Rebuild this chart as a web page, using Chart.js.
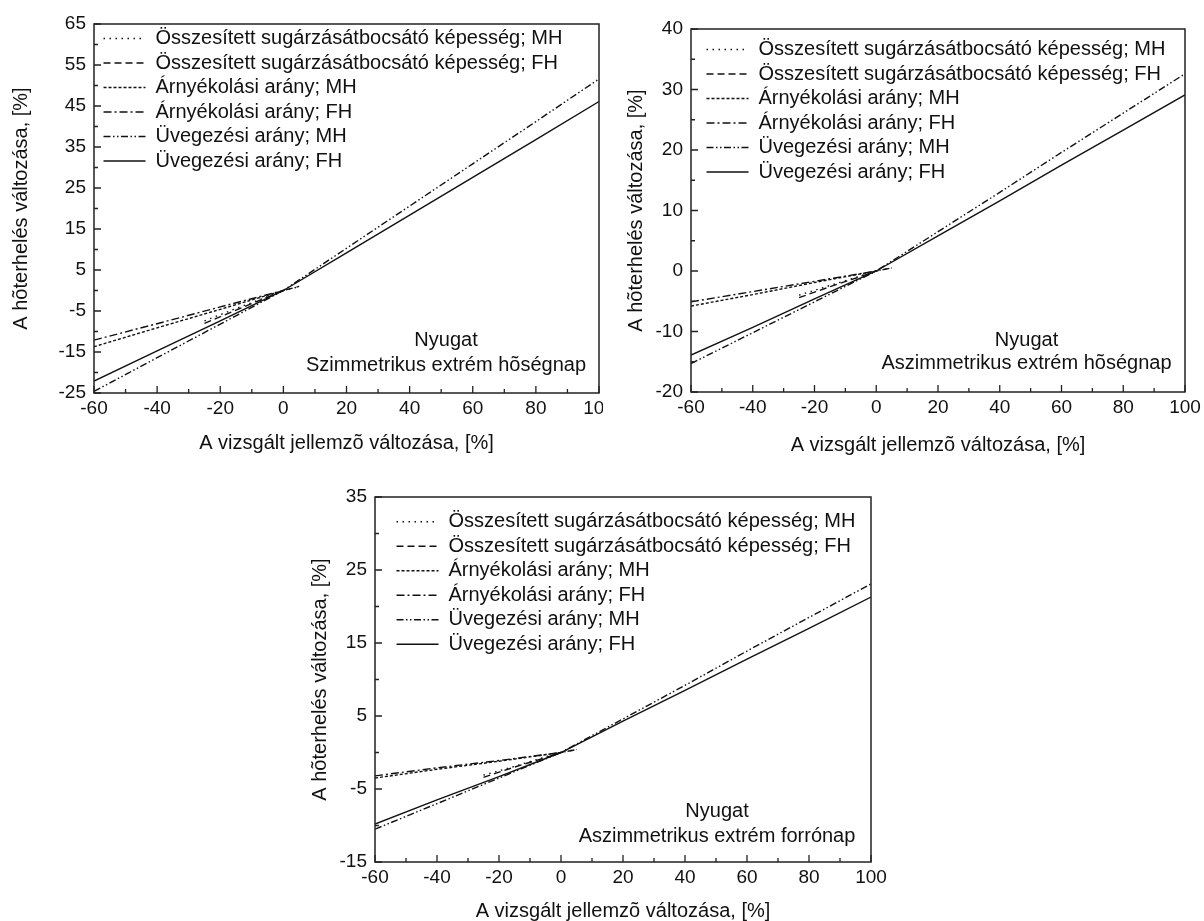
<!DOCTYPE html>
<html>
<head>
<meta charset="utf-8">
<script src="https://cdn.jsdelivr.net/npm/chart.js@4/dist/chart.umd.min.js"></script>
<style>
  html, body { margin: 0; padding: 0; background: #fff; }
  body { width: 1204px; height: 921px; position: relative; overflow: hidden; }
  canvas { position: absolute; }
</style>
</head>
<body>
<canvas id="c1" width="603" height="460" style="left:0px;top:0px;"></canvas>
<canvas id="c2" width="601" height="460" style="left:603px;top:0px;"></canvas>
<canvas id="c3" width="620" height="461" style="left:290px;top:460px;"></canvas>
<script>
// ---------- data ----------
const seriesNames = [
  'Összesített sugárzásátbocsátó képesség; MH',
  'Összesített sugárzásátbocsátó képesség; FH',
  'Árnyékolási arány; MH',
  'Árnyékolási arány; FH',
  'Üvegezési arány; MH',
  'Üvegezési arány; FH'
];
const xTotal   = [-25, -15, -5, 0, 5];
const xShading = [-60, -40, -20, 0];
const xGlazing = [-60, -40, -20, 0, 20, 40, 60, 80, 100];

const xTickValues = [-60, -40, -20, 0, 20, 40, 60, 80, 100];
const yTicks1 = [-25, -15, -5, 5, 15, 25, 35, 45, 55, 65];
const yTicks2 = [-20, -10, 0, 10, 20, 30, 40];
const yTicks3 = [-15, -5, 5, 15, 25, 35];

const xTitle = 'A vizsgált jellemzõ változása, [%]';
const yTitle = 'A hõterhelés változása, [%]';

// Chart 1: Szimmetrikus extrém hõségnap
const c1TotMH  = [-7.4, -4.4, -1.5, 0, 0.9];
const c1TotFH  = [-8.0, -4.8, -1.6, 0, 1.0];
const c1ShadMH = [-13.7, -9.1, -4.6, 0];
const c1ShadFH = [-12.1, -8.1, -4.0, 0];
const c1GlazMH = [-24.6, -16.4, -8.2, 0, 10.3, 20.6, 30.9, 41.2, 51.6];
const c1GlazFH = [-22.1, -14.7, -7.4, 0, 9.2, 18.4, 27.6, 36.8, 46.1];
const c1Note = ['Nyugat', 'Szimmetrikus extrém hõségnap'];

// Chart 2: Aszimmetrikus extrém hõségnap
const c2TotMH  = [-4.0, -2.4, -0.8, 0, 0.5];
const c2TotFH  = [-4.4, -2.6, -0.9, 0, 0.5];
const c2ShadMH = [-5.8, -3.9, -1.9, 0];
const c2ShadFH = [-5.1, -3.4, -1.7, 0];
const c2GlazMH = [-15.3, -10.2, -5.1, 0, 6.5, 13.0, 19.6, 26.1, 32.6];
const c2GlazFH = [-13.9, -9.3, -4.6, 0, 5.8, 11.6, 17.5, 23.3, 29.1];
const c2Note = ['Nyugat', 'Aszimmetrikus extrém hõségnap'];

// Chart 3: Aszimmetrikus extrém forrónap
const c3TotMH  = [-3.1, -1.9, -0.6, 0, 0.4];
const c3TotFH  = [-3.4, -2.0, -0.7, 0, 0.4];
const c3ShadMH = [-3.5, -2.3, -1.2, 0];
const c3ShadFH = [-3.2, -2.1, -1.1, 0];
const c3GlazMH = [-10.5, -7.0, -3.5, 0, 4.6, 9.2, 13.9, 18.5, 23.1];
const c3GlazFH = [-9.8, -6.5, -3.3, 0, 4.3, 8.5, 12.8, 17.0, 21.3];
const c3Note = ['Nyugat', 'Aszimmetrikus extrém forrónap'];

// ---------- styling ----------
const FONT = "'Liberation Sans', Arial, Helvetica, sans-serif";
const INK = '#111';
Chart.defaults.font.family = FONT;
Chart.defaults.color = INK;

const dashes = [
  [1.5, 4.5],                  // dotted
  [7, 4],                      // dashed
  [3, 2],                      // short dots
  [8, 3, 2, 3],                // dash-dot
  [7, 2.5, 1.5, 2.5, 1.5, 2.5],// dash-dot-dot
  []                           // solid
];

function pts(xs, ys) { return xs.map((x, i) => ({ x: x, y: ys[i] })); }

const framePlugin = {
  id: 'frame',
  afterDraw(chart) {
    const { ctx, chartArea: a, scales } = chart;
    const xs = scales.x, ys = scales.y;
    ctx.save();
    ctx.strokeStyle = '#222';
    ctx.lineWidth = 1.5;
    ctx.setLineDash([]);
    ctx.strokeRect(a.left, a.top, a.right - a.left, a.bottom - a.top);
    ctx.lineWidth = 1.3;
    const majorLen = 7, minorLen = 4;
    const xt = xs.ticks.map(t => t.value);
    const yt = ys.ticks.map(t => t.value);
    ctx.beginPath();
    xt.forEach((v, i) => {
      const px = xs.getPixelForValue(v);
      ctx.moveTo(px, a.bottom); ctx.lineTo(px, a.bottom - majorLen);
      if (i < xt.length - 1) {
        const pm = xs.getPixelForValue((v + xt[i + 1]) / 2);
        ctx.moveTo(pm, a.bottom); ctx.lineTo(pm, a.bottom - minorLen);
      }
    });
    yt.forEach((v, i) => {
      const py = ys.getPixelForValue(v);
      ctx.moveTo(a.left, py); ctx.lineTo(a.left + majorLen, py);
      if (i < yt.length - 1) {
        const pm = ys.getPixelForValue((v + yt[i + 1]) / 2);
        ctx.moveTo(a.left, pm); ctx.lineTo(a.left + minorLen, pm);
      }
    });
    ctx.stroke();
    ctx.restore();
  }
};

const notePlugin = {
  id: 'note',
  afterDraw(chart, args, opts) {
    const { ctx, chartArea: a } = chart;
    ctx.save();
    ctx.font = '20px ' + FONT;
    ctx.fillStyle = INK;
    ctx.textAlign = 'center';
    ctx.textBaseline = 'middle';
    opts.lines.forEach((t, i) => ctx.fillText(t, a.right - opts.dx, a.bottom - opts.dy[i]));
    ctx.restore();
  }
};

const legendPlace = {
  id: 'legendPlace',
  afterLayout(chart, args, opts) {
    const lg = chart.legend;
    if (!lg) return;
    const a = chart.chartArea;
    const pad = 4.5;
    lg.left = a.left + opts.dx - pad;
    lg.top = a.top + opts.dy - pad - 10;
    lg.right = a.right;
    lg.bottom = a.bottom;
  }
};

function makeChart(id, L, series, yTicks, yMin, yMax, note) {
  const xsets = [xTotal, xTotal, xShading, xShading, xGlazing, xGlazing];
  const datasets = series.map((ys, i) => ({
    label: seriesNames[i],
    data: pts(xsets[i], ys),
    borderColor: INK,
    backgroundColor: 'transparent',
    borderWidth: 1.4,
    borderDash: dashes[i],
    pointRadius: 0,
    tension: 0,
    fill: false
  }));
  return new Chart(document.getElementById(id), {
    type: 'line',
    data: { datasets },
    plugins: [framePlugin, notePlugin, legendPlace],
    options: {
      responsive: false,
      animation: false,
      parsing: true,
      layout: { padding: { left: 0, top: L.top, right: L.right, bottom: 0 } },
      scales: {
        x: {
          type: 'linear', min: -60, max: 100,
          afterBuildTicks: s => { s.ticks = xTickValues.map(v => ({ value: v })); },
          afterFit: s => { s.height = L.xh; s.paddingLeft = 0; s.paddingRight = 0; },
          grid: { display: false, drawTicks: false },
          border: { display: false },
          ticks: { autoSkip: false, maxRotation: 0, padding: 4, color: INK, font: { size: 19 } },
          title: { display: true, text: xTitle, color: INK, font: { size: 20, lineHeight: 1 }, padding: { top: 0, bottom: L.xtb } }
        },
        y: {
          type: 'linear', min: yMin, max: yMax,
          afterBuildTicks: s => { s.ticks = yTicks.map(v => ({ value: v })); },
          afterFit: s => { s.width = L.yw; },
          grid: { display: false, drawTicks: false },
          border: { display: false },
          ticks: { autoSkip: false, padding: 8, color: INK, font: { size: 19 } },
          title: { display: true, text: yTitle, color: INK, font: { size: 20, lineHeight: 1 }, padding: { top: L.ytp, bottom: 0 } }
        }
      },
      plugins: {
        tooltip: { enabled: false },
        legend: {
          position: 'chartArea',
          align: 'start',
          fullSize: false,
          labels: {
            usePointStyle: true,
            pointStyle: 'line',
            pointStyleWidth: 42,
            boxHeight: 20,
            padding: 4.5,
            color: INK,
            font: { size: 20 },
            generateLabels: chart => chart.data.datasets.map((ds, i) => ({
              text: ds.label,
              fillStyle: 'transparent',
              strokeStyle: ds.borderColor,
              lineWidth: ds.borderWidth,
              lineDash: ds.borderDash,
              lineCap: 'butt',
              pointStyle: 'line',
              fontColor: INK,
              hidden: false,
              datasetIndex: i
            }))
          }
        },
        legendPlace: { dx: L.ldx, dy: L.ldy },
        note: { lines: note, dx: L.ndx, dy: L.ndy }
      }
    }
  });
}

makeChart('c1',
  { top: 24, right: 4, yw: 94, xh: 67, ytp: 11, xtb: 7, ldx: 9.5, ldy: 14.5, ndx: 153, ndy: [53, 28] },
  [c1TotMH, c1TotFH, c1ShadMH, c1ShadFH, c1GlazMH, c1GlazFH], yTicks1, -25, 65, c1Note);

makeChart('c2',
  { top: 29, right: 19, yw: 88, xh: 68, ytp: 23.5, xtb: 5, ldx: 15.5, ldy: 20.5, ndx: 158.5, ndy: [52, 28.7] },
  [c2TotMH, c2TotFH, c2ShadMH, c2ShadFH, c2GlazMH, c2GlazFH], yTicks2, -20, 40, c2Note);

makeChart('c3',
  { top: 37, right: 39, yw: 85, xh: 59, ytp: 20, xtb: 0, ldx: 21.5, ldy: 24.7, ndx: 154, ndy: [50.3, 25.3] },
  [c3TotMH, c3TotFH, c3ShadMH, c3ShadFH, c3GlazMH, c3GlazFH], yTicks3, -15, 35, c3Note);
</script>
</body>
</html>
